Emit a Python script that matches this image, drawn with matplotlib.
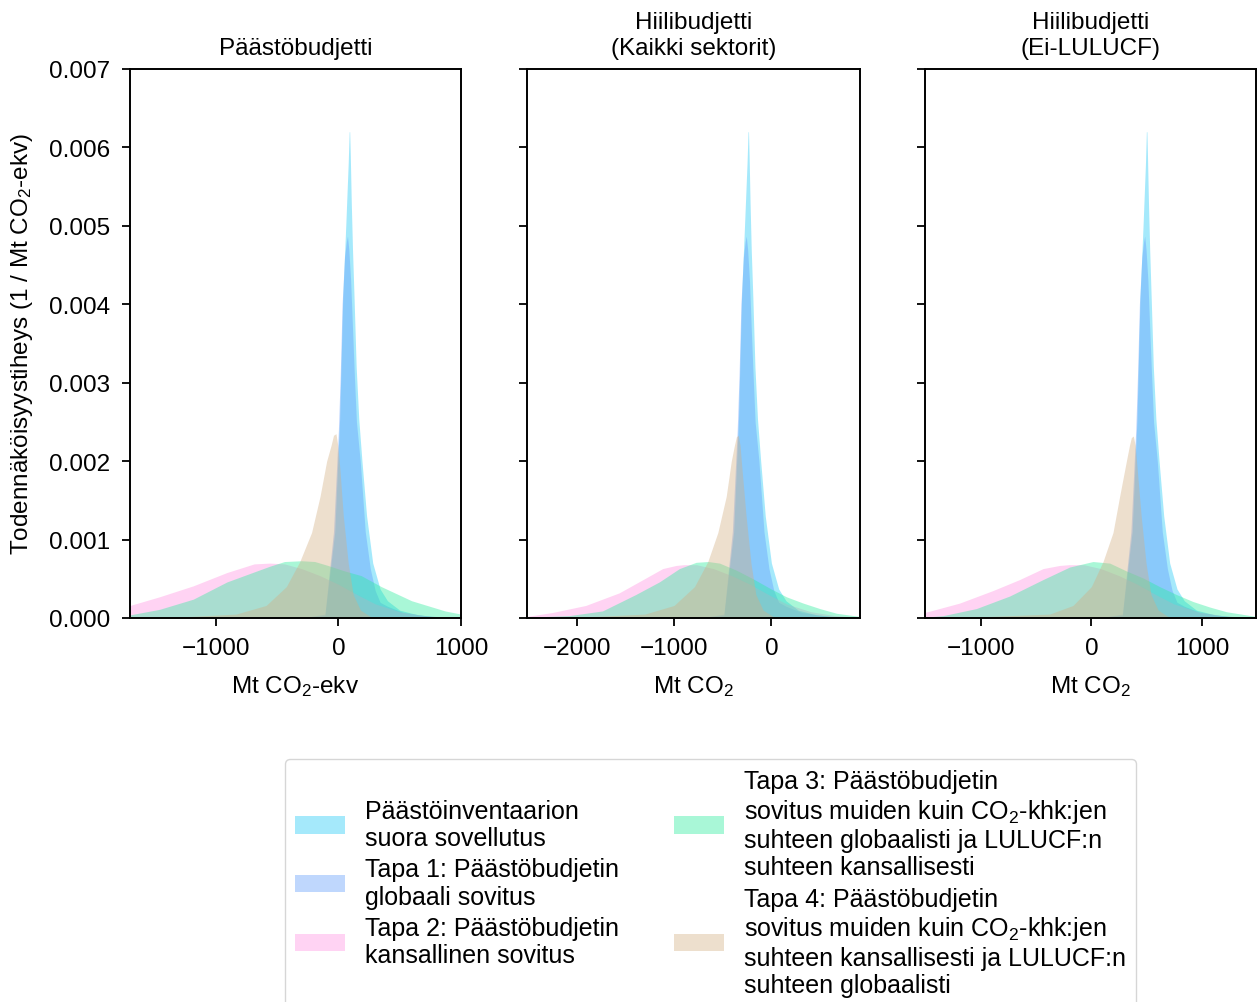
import matplotlib
matplotlib.use('Agg')
import matplotlib.pyplot as plt

plt.rcParams['font.family'] = ['Liberation Sans', 'DejaVu Sans']
plt.rcParams['mathtext.default'] = 'regular'
plt.rcParams['font.size'] = 17.5

# Density curves (x in Mt, y in 1/Mt)
# Panel 1: Päästöbudjetti
p1_cyan_x = [-300, -110, -30, 10, 35, 60, 80, 88, 92, 97, 105, 115, 128, 145, 166, 192, 230, 280, 340, 400, 500, 650, 850, 1000]
p1_cyan_y = [0, 0.00003, 0.0011, 0.00254, 0.00407, 0.0050, 0.0058, 0.0062, 0.0062, 0.0059, 0.0053, 0.0047, 0.00407, 0.0032, 0.00254, 0.0020, 0.0013, 0.0007, 0.00037, 0.00022, 0.0001, 0.00004, 0.00001, 0]
p1_blue_x = [-300, -110, -40, 0, 15, 30, 50, 65, 74, 85, 100, 115, 130, 147, 178, 219, 260, 300, 340, 400, 530, 800]
p1_blue_y = [0, 0.00005, 0.0011, 0.0024, 0.0031, 0.0040, 0.0046, 0.0048, 0.00487, 0.0047, 0.0043, 0.0037, 0.0031, 0.0025, 0.0020, 0.0011, 0.00063, 0.00035, 0.0002, 0.00015, 0.00007, 0.00001]
p1_pink_x = [-1700, -1460, -1184, -909, -687, -560, -440, -300, -150, 0, 150, 300, 500, 700, 1000]
p1_pink_y = [0.00016, 0.00027, 0.00041, 0.00058, 0.00069, 0.0007, 0.00069, 0.00063, 0.00054, 0.00043, 0.0003, 0.00018, 0.00008, 0.00003, 0.0]
p1_green_x = [-1700, -1460, -1184, -909, -700, -560, -440, -300, -193, -86, 50, 186, 350, 597, 870, 1000]
p1_green_y = [0.00004, 0.00011, 0.00024, 0.00046, 0.00058, 0.00066, 0.00072, 0.00073, 0.00072, 0.00067, 0.0006, 0.00054, 0.0004, 0.00022, 0.00009, 0.00005]
p1_tan_x = [-1700, -1200, -835, -590, -425, -315, -219, -150, -96, -60, -40, -20, -5, 12, 40, 80, 120, 180, 260, 320]
p1_tan_y = [0.000005, 0.00002, 0.00005, 0.00016, 0.0004, 0.00072, 0.00109, 0.00155, 0.0020, 0.0022, 0.00233, 0.00235, 0.0022, 0.0019, 0.0013, 0.0007, 0.0003, 0.0001, 0.00002, 0]

# Panel 2: Hiilibudjetti (Kaikki sektorit)
p2_cyan_x = [-726, -488, -388, -338, -307, -276, -250, -240, -235, -229, -219, -207, -190, -169, -143, -110, -63, 0, 75, 150, 276, 463, 714, 900]
p2_cyan_y = p1_cyan_y
p2_blue_x = [-726, -488, -401, -351, -332, -313, -288, -269, -258, -244, -225, -207, -188, -167, -128, -76, -25, 25, 75, 150, 313, 651]
p2_blue_y = p1_blue_y
p2_pink_x = [-2510, -2250, -1907, -1564, -1289, -1117, -979, -900, -770, -595, -407, -220, -32, 156, 406, 656, 910]
p2_pink_y = [0.00002, 0.00007, 0.00016, 0.00032, 0.00051, 0.00063, 0.00067, 0.00068, 0.00068, 0.00063, 0.00054, 0.00043, 0.0003, 0.00018, 0.00008, 0.00003, 0.00001]
p2_green_x = [-2510, -2079, -1735, -1392, -1151, -945, -773, -650, -533, -361, -189, -17, 155, 326, 498, 670, 910]
p2_green_y = [0.00001, 0.00003, 0.00009, 0.0003, 0.00046, 0.00063, 0.00071, 0.00072, 0.0007, 0.00061, 0.0005, 0.00038, 0.00027, 0.00019, 0.00012, 0.00006, 0.00002]
p2_tan_x = [-2500, -1800, -1300, -1000, -790, -653, -550, -464, -412, -380, -360, -340, -322, -302, -260, -210, -160, -85, 15, 90]
p2_tan_y = [0.000005, 0.00002, 0.00005, 0.00016, 0.0004, 0.00072, 0.00109, 0.00155, 0.0020, 0.0022, 0.00231, 0.00233, 0.0022, 0.0019, 0.0013, 0.0007, 0.0003, 0.0001, 0.00002, 0]

# Panel 3: Hiilibudjetti (Ei-LULUCF)
p3_cyan_x = [72, 281, 369, 413, 440, 468, 490, 498, 503, 508, 517, 528, 542, 561, 584, 613, 655, 709, 775, 841, 951, 1116, 1336, 1490]
p3_cyan_y = p1_cyan_y
p3_blue_x = [72, 281, 358, 402, 418, 435, 457, 473, 483, 495, 512, 528, 545, 563, 597, 642, 688, 731, 775, 841, 984, 1281]
p3_blue_y = p1_blue_y
p3_pink_x = [-1508, -1192, -890, -649, -437, -287, -200, -68, 86, 251, 416, 581, 746, 965, 1185, 1490]
p3_pink_y = [0.00007, 0.00019, 0.00035, 0.00049, 0.00063, 0.00067, 0.00068, 0.00068, 0.00063, 0.00054, 0.00043, 0.0003, 0.00018, 0.00008, 0.00003, 0.0]
p3_green_x = [-1508, -1342, -1041, -739, -437, -196, 15, 166, 317, 468, 618, 769, 920, 1071, 1222, 1490]
p3_green_y = [0.00001, 0.00003, 0.00012, 0.00028, 0.00049, 0.00065, 0.00072, 0.0007, 0.0006, 0.00051, 0.0004, 0.0003, 0.00021, 0.00014, 0.00008, 0.00002]
p3_tan_x = [-1500, -913, -377, -166, 0, 106, 196, 256, 317, 345, 362, 380, 397, 415, 451, 495, 539, 605, 693, 759]
p3_tan_y = [0.000005, 0.00002, 0.00005, 0.00016, 0.0004, 0.00072, 0.00109, 0.00155, 0.0020, 0.0022, 0.0023, 0.00232, 0.0022, 0.0019, 0.0013, 0.0007, 0.0003, 0.0001, 0.00002, 0]

labels = ['Päästöinventaarion\nsuora sovellutus',
          'Tapa 1: Päästöbudjetin\nglobaali sovitus',
          'Tapa 2: Päästöbudjetin\nkansallinen sovitus',
          'Tapa 3: Päästöbudjetin\nsovitus muiden kuin CO$_2$-khk:jen\nsuhteen globaalisti ja LULUCF:n\nsuhteen kansallisesti',
          'Tapa 4: Päästöbudjetin\nsovitus muiden kuin CO$_2$-khk:jen\nsuhteen kansallisesti ja LULUCF:n\nsuhteen globaalisti']
colors = ['#20c8f7', '#619bfc', '#ff93e1', '#2aed9d', '#d2af84']

titles = ['Päästöbudjetti', 'Hiilibudjetti\n(Kaikki sektorit)', 'Hiilibudjetti\n(Ei-LULUCF)']
xlabels = ['Mt CO$_2$-ekv', 'Mt CO$_2$', 'Mt CO$_2$']
xlims = [(-1700, 1000), (-2510, 910), (-1505, 1490)]
xticks = [[-1000, 0, 1000], [-2000, -1000, 0], [-1000, 0, 1000]]
yticks = [0, 0.001, 0.002, 0.003, 0.004, 0.005, 0.006, 0.007]

panels = [
    [(p1_cyan_x, p1_cyan_y), (p1_blue_x, p1_blue_y), (p1_pink_x, p1_pink_y), (p1_green_x, p1_green_y), (p1_tan_x, p1_tan_y)],
    [(p2_cyan_x, p2_cyan_y), (p2_blue_x, p2_blue_y), (p2_pink_x, p2_pink_y), (p2_green_x, p2_green_y), (p2_tan_x, p2_tan_y)],
    [(p3_cyan_x, p3_cyan_y), (p3_blue_x, p3_blue_y), (p3_pink_x, p3_pink_y), (p3_green_x, p3_green_y), (p3_tan_x, p3_tan_y)],
]

fig = plt.figure(figsize=(12.58, 10.03), dpi=100)
lefts = [130, 527, 925]
widths = [331, 333, 331]
axes = []
for i in range(3):
    ax = fig.add_axes([lefts[i] / 1258, 1 - 619 / 1003, widths[i] / 1258, 549 / 1003])
    axes.append(ax)
    for (x, y), c, lab in zip(panels[i], colors, labels):
        ax.fill_between(x, y, 0, color=c, alpha=0.4, linewidth=0, label=lab)
    ax.set_xlim(xlims[i])
    ax.set_ylim(0, 0.007)
    ax.set_xticks(xticks[i])
    ax.set_yticks(yticks)
    ax.set_title(titles[i], fontsize=17.5, pad=11)
    ax.set_xlabel(xlabels[i], fontsize=17.5, labelpad=10)
    ax.tick_params(direction='out', length=6, width=1.3, pad=8, labelsize=17.5)
    for s in ax.spines.values():
        s.set_linewidth(1.4)
    if i == 0:
        ax.set_yticklabels(['%.3f' % t for t in yticks])
        ax.set_ylabel('Todennäköisyystiheys (1 / Mt CO$_2$-ekv)', fontsize=17.5, labelpad=10)
    else:
        ax.set_yticklabels([])

handles, labs = axes[0].get_legend_handles_labels()
leg = fig.legend(handles, labs, loc='upper center', bbox_to_anchor=(0.565, 0.2545),
                 ncol=2, fontsize=18, labelspacing=0.3, columnspacing=2.2, frameon=True)
for t in leg.get_texts():
    t.set_linespacing(1.17)

fig.savefig('out.png', dpi=100)
